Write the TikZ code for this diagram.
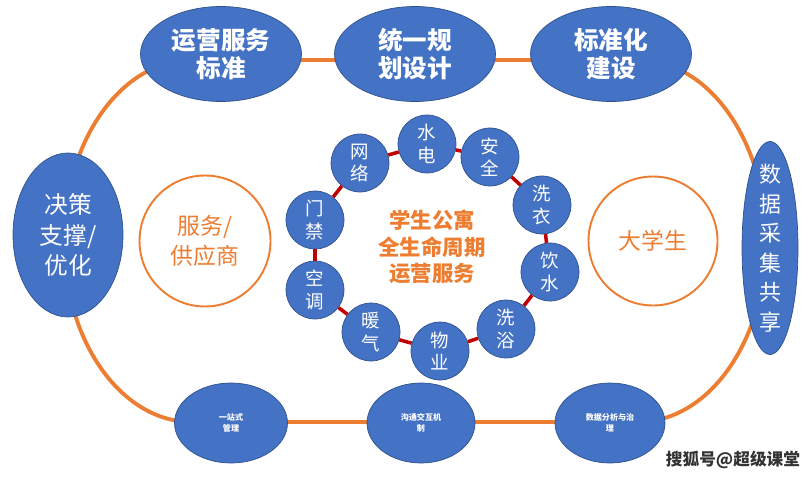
\documentclass[tikz,border=0pt]{standalone}
\usepackage{fontspec}
\setmainfont{Noto Sans CJK SC}
\usepackage{tikz}
\usetikzlibrary{shapes.geometric}
\definecolor{pblue}{HTML}{4472C4}
\definecolor{pedge}{HTML}{2F528F}
\definecolor{porange}{HTML}{ED7D31}
\definecolor{pred}{HTML}{C00000}
\definecolor{pgray}{HTML}{333333}

\begin{document}
\begin{tikzpicture}[
  font=\fontsize{10pt}{12.5pt}\selectfont,
  blob/.style={ellipse,draw=pedge,thin,fill=pblue,text=white,inner sep=0pt,align=center},
  topell/.style={blob,minimum width=3.22cm,minimum height=1.9cm,
                 font=\fontsize{14pt}{16pt}\selectfont\bfseries},
  sideell/.style={blob,font=\fontsize{13.5pt}{17.5pt}\selectfont},
  botell/.style={blob,minimum height=1.6cm,font=\fontsize{4.6pt}{6pt}\selectfont\bfseries},
  ring/.style={circle,draw=pedge,thin,fill=pblue,text=white,inner sep=0pt,
               minimum size=1.16cm,align=center,font=\fontsize{10.5pt}{12.8pt}\selectfont},
  hub/.style={circle,draw=porange,line width=1.1pt,fill=white,text=porange,inner sep=0pt,
              align=center,font=\fontsize{13pt}{17pt}\selectfont},
  lab/.style={align=center,inner sep=0pt},
  track/.style={draw=porange,line width=2.2pt},
  link/.style={-,draw=pred,line width=2pt}]

\useasboundingbox (0,0) rectangle (16.2,9.52);

% ---- outer loop: straight top and bottom, half-ellipse ends -----------------
\draw[track] (3.84,8.32) -- (12.76,8.32)
  arc[start angle=90,end angle=-90,x radius=2.56,y radius=3.62]
  -- (3.84,1.08)
  arc[start angle=270,end angle=90,x radius=2.56,y radius=3.62] -- cycle;

% ---- top row ---------------------------------------------------------------
\node[topell] (yyfw) at (4.42,8.44) {运营服务\\标准};
\node[topell] (tygh) at (8.30,8.44) {统一规\\划设计};
\node[topell] (bzh)  at (12.22,8.44) {标准化\\建设};

% ---- left and right ends ---------------------------------------------------
\node[sideell,minimum width=2.2cm,minimum height=3.28cm] (jczc) at (1.36,4.82)
  {决策\\支撑/\\优化};
\node[blob,minimum width=1.12cm,minimum height=4.26cm] (sjcj) at (15.40,4.56) {};
\node[lab,text=white,font=\fontsize{12.5pt}{16.8pt}\selectfont] (sjcjt) at (sjcj)
  {数\\据\\采\\集\\共\\享};

% ---- bottom row ------------------------------------------------------------
\node[botell,minimum width=2.26cm] (yzs)  at (4.62,1.06) {一站式\\管理};
\node[botell,minimum width=2.16cm] (gtjh) at (8.42,1.06) {沟通交互机\\制};
\node[botell,minimum width=2.2cm]  (sjfx) at (12.20,1.06) {数据分析与治\\理};

% ---- the two parties -------------------------------------------------------
\node[hub,minimum size=2.62cm] (gys) at (4.10,4.70) {服务/\\供应商};
\node[hub,minimum size=2.58cm] (dxs) at (13.06,4.70) {大学生};

% ---- service ring ----------------------------------------------------------
\node[ring] (wl) at (7.20,6.26) {网\\络};
\node[ring] (sd) at (8.54,6.64) {水\\电};
\node[ring] (aq) at (9.80,6.38) {安\\全};
\node[ring] (xy) at (10.84,5.42) {洗\\衣};
\node[ring] (ys) at (11.00,4.08) {饮\\水};
\node[ring] (xz) at (10.12,2.94) {洗\\浴};
\node[ring] (wy) at (8.80,2.50) {物\\业};
\node[ring] (nq) at (7.42,2.88) {暖\\气};
\node[ring] (kt) at (6.30,3.72) {空\\调};
\node[ring] (mj) at (6.30,5.12) {门\\禁};
\draw[link] (wl) -- (sd);
\draw[link] (sd) -- (aq);
\draw[link] (aq) -- (xy);
\draw[link] (xy) -- (ys);
\draw[link] (ys) -- (xz);
\draw[link] (xz) -- (wy);
\draw[link] (wy) -- (nq);
\draw[link] (nq) -- (kt);
\draw[link] (kt) -- (mj);
\draw[link] (mj) -- (wl);

\node[lab,text=porange,font=\fontsize{12.2pt}{15pt}\selectfont\bfseries] (core)
  at (8.64,4.58) {学生公寓\\全生命周期\\运营服务};

% watermark
\node[lab,text=pgray,font=\fontsize{9.5pt}{11pt}\selectfont\bfseries] (wm)
  at (14.66,0.32) {搜狐号@超级课堂};
\end{tikzpicture}
\end{document}
